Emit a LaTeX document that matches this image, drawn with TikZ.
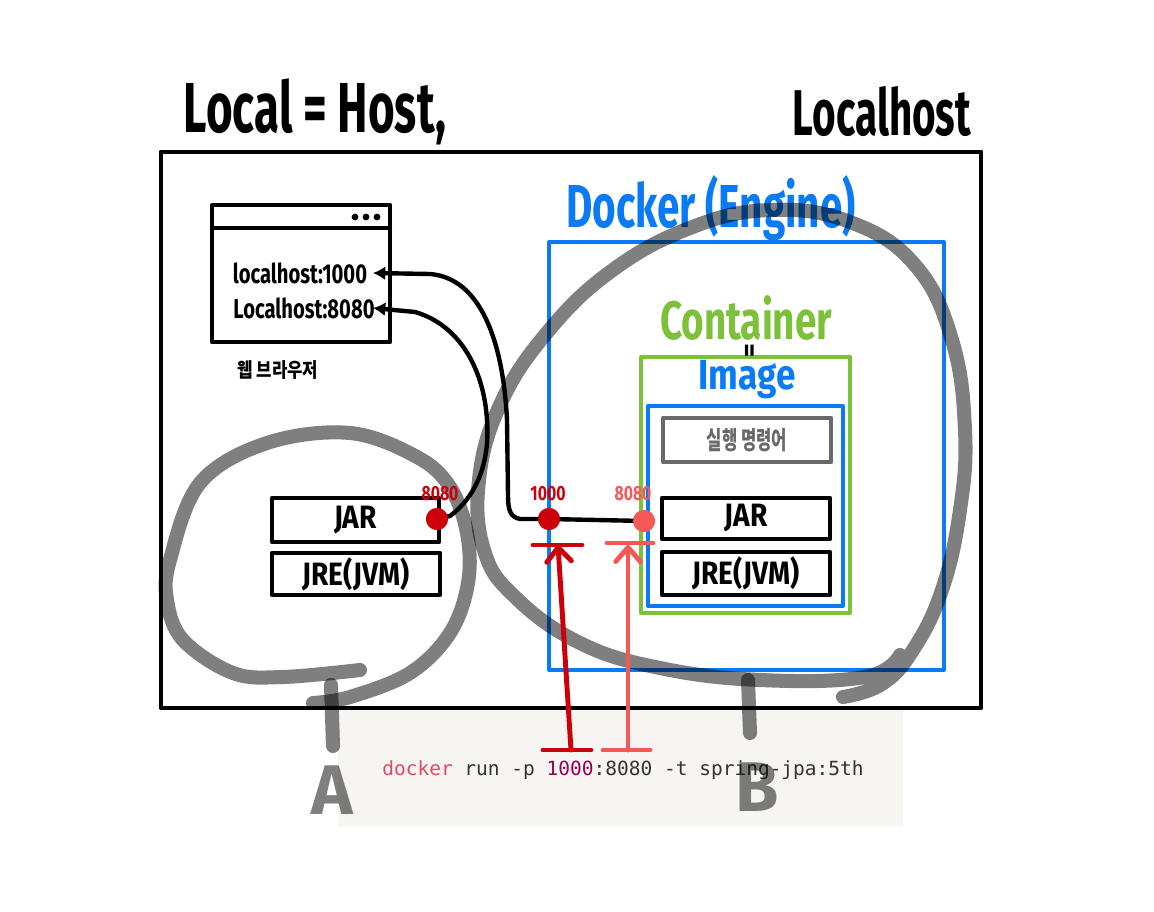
\documentclass[tikz,border=0pt]{standalone}
\usepackage{graphicx}
\usepackage{fontspec}
\setmainfont{Fira Sans}
\setmonofont{DejaVu Sans Mono}
\newfontfamily\krfont{Noto Sans CJK KR}
\usetikzlibrary{arrows.meta, calc, fit}
\definecolor{dockerblue}{RGB}{10,122,245}
\definecolor{boxgreen}{RGB}{125,193,58}
\definecolor{portred}{RGB}{205,0,10}
\definecolor{portpink}{RGB}{246,88,88}
\definecolor{cmdbg}{RGB}{246,245,241}
\definecolor{cmdred}{RGB}{226,72,104}
\definecolor{cmdnum}{RGB}{150,0,80}
\definecolor{cmdgray}{RGB}{51,51,51}
\definecolor{labelgray}{RGB}{105,105,105}
\newcommand\hand[2]{\scalebox{1}[#1]{#2}}
\tikzset{
    hostbox/.style={draw=black, line width=2.8pt, inner sep=0pt, outer sep=0pt},
    partbox/.style={draw=black, line width=2.5pt, inner sep=0pt, outer sep=0pt},
    parttext/.style={font=\bfseries\fontsize{16}{16}\selectfont, inner sep=0pt},
    dockerbox/.style={draw=dockerblue, line width=2.3pt, inner sep=0pt, outer sep=0pt},
    containerbox/.style={draw=boxgreen, line width=2.3pt, inner sep=0pt, outer sep=0pt},
    runbox/.style={draw=labelgray, line width=2.5pt, inner sep=0pt, outer sep=0pt},
    runtext/.style={text=labelgray, font=\krfont\bfseries\fontsize{9.5}{10}\selectfont, inner sep=0pt},
    stripbox/.style={fill=cmdbg, inner sep=0pt, outer sep=0pt},
    title/.style={font=\bfseries\fontsize{#1}{#1}\selectfont, inner sep=0pt},
    urlname/.style={font=\bfseries\fontsize{11.5}{12}\selectfont, inner sep=0pt},
    portnum/.style={font=\bfseries\fontsize{9}{10}\selectfont, inner sep=0pt},
    portdot/.style={circle, minimum size=0.44cm, inner sep=0pt},
    wire/.style={draw=black, line width=2.5pt},
    portarrow/.style={line width=2.8pt, -{Straight Barb[length=8pt, width=14pt, round]}},
    portbar/.style={line width=2.8pt},
    loopmark/.style={draw=black, draw opacity=0.5, line width=8pt},
    loopletter/.style={font=\bfseries\fontsize{40}{40}\selectfont, text=black, text opacity=0.5}
}
\begin{document}
\begin{tikzpicture}[x=0.02cm, y=-0.02cm, line cap=round, line join=round]
    \useasboundingbox (0,0) rectangle (1154,912);
    \fill[white] (0,0) rectangle (1154,912);

    % command line strip
    \node[stripbox, fit={(338,708) (903,826)}] (strip) {};
    \node[font=\ttfamily\fontsize{11.1}{13}\selectfont, text=cmdgray] (cmdline) at (623,770)
        {\textcolor{cmdred}{docker} run -p \textcolor{cmdnum}{1000}:8080 -t spring-jpa:5th};

    % host
    \node[hostbox, fit={(161,152) (981,708)}] (host) {};
    \node[title=26] (hostlbl) at (315,112) {\hand{1.55}{Local = Host,}};
    \node[title=23] (localhost) at (882,112) {\hand{1.6}{Localhost}};

    % web browser
    \node[partbox, fit={(212,205) (390,342)}] (browser) {};
    \draw[line width=2.5pt] (browser.west |- 0,228) -- (browser.east |- 0,228);
    \foreach \dx in {355,366,377}
        \fill (\dx,217) circle (3.4);
    \node[urlname] (url1000) at (300,273) {\hand{1.35}{localhost:1000}};
    \node[urlname] (url8080) at (304,308) {\hand{1.35}{Localhost:8080}};
    \coordinate (in1000) at (373,273);
    \coordinate (in8080) at (373,308);
    \node[font=\krfont\bfseries\fontsize{9.5}{10}\selectfont] (browsername) at (278,370) {\hand{1.2}{웹 브라우저}};

    % local app
    \node[partbox, fit={(272,498) (439,542)}] (jarL) {};
    \node[parttext] at (jarL) {\hand{1.15}{JAR}};
    \node[partbox, fit={(272,553) (440,595)}] (jreL) {};
    \node[parttext] at (jreL) {\hand{1.15}{JRE(JVM)}};

    % docker engine
    \node[dockerbox, fit={(549,242) (944,670)}] (docker) {};
    \node[title=23, text=dockerblue] (dockerlbl) at (711,208) {\hand{1.5}{Docker (Engine)}};
    \node[containerbox, fit={(641,357) (850,613)}] (container) {};
    \node[title=22, text=boxgreen] (containerlbl) at (746,318) {\hand{1.4}{Container}};
    \node[title=15, rotate=90] (equals) at (752,351) {=};
    \node[dockerbox, fit={(648,406) (843,606)}] (image) {};
    \node[title=20, text=dockerblue] (imagelbl) at (747,380) {\hand{1.2}{Image}};
    \node[runbox, fit={(663,418) (831,462)}] (runcmd) {};
    \node[runtext] at (runcmd) {\hand{1.5}{실행 명령어}};
    \node[partbox, fit={(662,498) (830,539)}] (jarC) {};
    \node[parttext] at (jarC) {\hand{1.15}{JAR}};
    \node[partbox, fit={(662,552) (830,595)}] (jreC) {};
    \node[parttext] at (jreC) {\hand{1.15}{JRE(JVM)}};

    % ports and wires
    \node[portdot, fill=portred] (p8080L) at (437,519) {};
    \node[portdot, fill=portred] (p1000) at (549,519) {};
    \node[portdot, fill=portpink] (p8080C) at (644,521) {};
    \draw[wire, -{Latex[length=7pt, width=8pt]}] (p1000.center) -- (520,519)
        .. controls (510,517) and (508,510) .. (508,495) -- (507,420)
        .. controls (503,340) and (480,278) .. (430,274) -- (in1000);
    \draw[wire, -{Latex[length=7pt, width=8pt]}] (p8080L.center) -- (450,516)
        .. controls (478,495) and (490,460) .. (487,420)
        .. controls (484,370) and (460,325) .. (415,312) -- (in8080);
    \draw[wire] (p1000.center) -- (p8080C.center);

    % A and B
    \draw[loopmark] plot[smooth, tension=0.6] coordinates {(360,670) (283,677) (233,673) (183,640) (167,600) (170,560) (200,483) (267,443) (350,433) (417,457) (450,487) (467,533) (468,583) (450,633) (410,673) (350,697) (313,703)};
    \draw[loopmark] plot[smooth, tension=0.7] coordinates {(843,697) (882,684) (913,650) (942,590) (960,510) (965,430) (952,340) (915,265) (850,222) (770,210) (690,228) (610,272) (545,335) (500,405) (479,480) (484,550) (515,597) (580,643) (660,668) (760,680) (865,677) (900,655)};
    \coordinate (stemAtop) at (331,685);
    \coordinate (stemBtop) at (748,680);
    \draw[loopmark] (stemAtop) -- (333,746);
    \draw[loopmark] (stemBtop) -- (750,733);
    \node[loopletter] (letterA) at (332,790) {A};
    \node[loopletter] (letterB) at (757,787) {B};

    % port mapping arrows
    \coordinate (hosttop) at (558,545);
    \coordinate (hostbot) at (571,750);
    \coordinate (conttop) at (628,545);
    \coordinate (contbot) at (628,750);
    \draw[portarrow, portred] (hostbot) -- (hosttop);
    \draw[portbar, portred] ($(hosttop)+(-25,0)$) -- ($(hosttop)+(24,0)$);
    \draw[portbar, portred] ($(hostbot)+(-28,0)$) -- ($(hostbot)+(20,0)$);
    \draw[portarrow, portpink] (contbot) -- (conttop);
    \draw[portbar, portpink] ($(conttop)+(-21,-2)$) -- ($(conttop)+(25,-2)$);
    \draw[portbar, portpink] ($(contbot)+(-25,0)$) -- ($(contbot)+(22,0)$);

    % dots on top
    \node[portdot, fill=portred] at (p8080L) {};
    \node[portdot, fill=portred] at (p1000) {};
    \node[portdot, fill=portpink] at (p8080C) {};
    \node[portnum, text=portred] (n8080L) at (440,494) {\hand{1.3}{8080}};
    \node[portnum, text=portred] (n1000) at (548,494) {\hand{1.3}{1000}};
    \node[portnum, text=portpink] (n8080C) at (633,494) {\hand{1.3}{8080}};
\end{tikzpicture}
\end{document}
